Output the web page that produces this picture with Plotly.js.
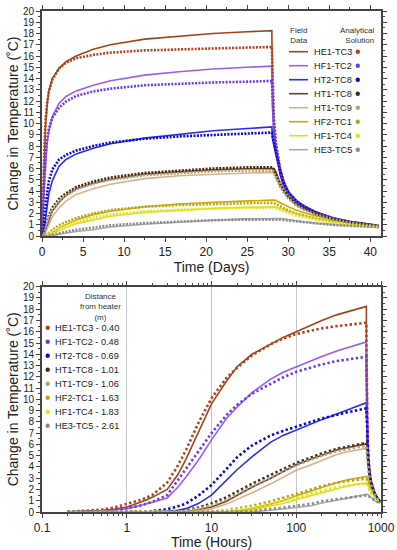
<!DOCTYPE html>
<html><head><meta charset="utf-8">
<script src="https://cdn.plot.ly/plotly-3.0.1.min.js"></script>
<style>html,body{margin:0;padding:0;background:#fff}</style>
</head><body>
<div id="chart" style="width:397px;height:550px"></div>
<script>
// ---- DATA ----
const seriesNames = ['HE1-TC3','HF1-TC2','HT2-TC8','HT1-TC8','HT1-TC9','HF2-TC1','HF1-TC4','HE3-TC5'];
const distances = ['0.40','0.48','0.69','1.01','1.06','1.63','1.83','2.61'];
// elapsed time in hours (heater switched off at ~672 h = 28 days)
const hours = [0,0.2,0.3,0.5,0.7, 1,1.5,2,3,4, 5,7,10,15,20, 30,50,70,100,150, 200,300,400,500,600, 672,674,678,684,690, 696,706,720,744,768, 804,852,900,948,984];

// Field data (measured, solid lines)
const fieldHE1TC3 = [0,0.02,0.05,0.12,0.25, 0.45,0.9,1.3,2.0,3.3, 4.7,7.1,9.6,11.6,12.9, 14.0,14.9,15.5,16.0,16.6, 17.0,17.5,17.75,18.0,18.15, 18.25,13.5,9.8,7.8,6.6, 5.6,4.5,3.6,2.9,2.45, 1.9,1.42,1.13,0.95,0.83];
const fieldHF1TC2 = [0,0.01,0.03,0.08,0.15, 0.3,0.6,0.85,1.25,2.2, 3.1,4.6,6.4,8.3,9.3, 10.6,11.8,12.4,12.9,13.4, 13.8,14.3,14.6,14.85,15.0, 15.1,11.5,9.0,7.5,6.4, 5.5,4.5,3.6,2.9,2.45, 1.9,1.42,1.13,0.95,0.83];
const fieldHT2TC8 = [0,0,0,0,0, 0,0.01,0.02,0.08,0.15, 0.3,0.75,1.5,2.8,3.75, 4.9,6.2,6.8,7.3,7.8, 8.2,8.7,9.05,9.35,9.55, 9.7,8.6,7.9,7.2,6.4, 5.5,4.5,3.6,2.9,2.45, 1.9,1.42,1.13,0.95,0.83];
const fieldHT1TC8 = [0,0,0,0,0, 0,0,0,0,0.02, 0.05,0.2,0.45,0.95,1.45, 2.2,3.0,3.6,4.2,4.7, 5.05,5.5,5.7,5.88,5.98, 6.05,6.05,6.0,5.7,5.25, 4.75,4.2,3.6,2.95,2.55, 2.1,1.6,1.28,1.05,0.9];
const fieldHT1TC9 = [0,0,0,0,0, 0,0,0,0,0, 0.02,0.1,0.3,0.7,1.1, 1.7,2.5,3.1,3.7,4.2, 4.6,5.1,5.35,5.5,5.6, 5.65,5.65,5.6,5.4,5.1, 4.7,4.25,3.7,3.0,2.6, 2.1,1.62,1.3,1.06,0.9];
const fieldHF2TC1 = [0,0,0,0,0, 0,0,0,0,0, 0,0,0,0.02,0.1, 0.3,0.7,1.0,1.45,1.9, 2.2,2.6,2.85,3.0,3.12, 3.2,3.2,3.2,3.15,3.05, 2.95,2.8,2.6,2.3,2.05, 1.75,1.42,1.18,0.98,0.85];
const fieldHF1TC4 = [0,0,0,0,0, 0,0,0,0,0, 0,0,0,0,0.05, 0.2,0.5,0.75,1.1,1.45, 1.75,2.1,2.3,2.45,2.55, 2.6,2.6,2.6,2.58,2.52, 2.45,2.35,2.2,1.95,1.8, 1.55,1.3,1.1,0.95,0.83];
const fieldHE3TC5 = [0,0,0,0,0, 0,0,0,0,0, 0,0,0,0,0, 0.02,0.15,0.25,0.4,0.55, 0.8,1.05,1.25,1.4,1.52, 1.6,1.6,1.6,1.6,1.58, 1.56,1.52,1.45,1.35,1.25, 1.12,1.0,0.92,0.85,0.8];

// Analytical solution (dotted)
const analyHE1TC3 = [0,0.03,0.08,0.2,0.38, 0.7,1.1,1.5,2.6,4.1, 5.5,7.9,10.1,11.9,12.8, 13.9,14.9,15.4,15.8,16.1, 16.3,16.5,16.6,16.7,16.75, 16.8,14.5,10.5,8.3,7.0, 6.0,4.9,3.9,3.1,2.6, 2.05,1.55,1.25,1.02,0.9];
const analyHF1TC2 = [0,0.02,0.04,0.1,0.2, 0.35,0.6,0.9,1.5,2.8, 3.8,5.4,7.0,8.6,9.5, 10.5,11.4,11.95,12.45,12.85, 13.1,13.4,13.55,13.65,13.72, 13.78,12.5,9.8,8.0,6.8, 5.9,4.8,3.9,3.1,2.6, 2.05,1.55,1.25,1.02,0.9];
const analyHT2TC8 = [0,0,0,0,0, 0.01,0.03,0.08,0.25,0.5, 0.75,1.45,2.4,3.8,4.85, 5.9,6.8,7.2,7.6,8.0, 8.3,8.65,8.85,9.0,9.12, 9.2,8.9,8.3,7.6,6.8, 5.9,4.8,3.9,3.1,2.6, 2.05,1.55,1.25,1.02,0.9];
const analyHT1TC8 = [0,0,0,0,0, 0,0,0,0.02,0.06, 0.15,0.4,0.75,1.3,1.8, 2.5,3.3,3.8,4.35,4.85, 5.2,5.6,5.8,6.0,6.1, 6.15,6.1,5.9,5.5,5.0, 4.6,4.1,3.5,2.8,2.4, 1.95,1.5,1.22,1.02,0.9];
const analyHT1TC9 = [0,0,0,0,0, 0,0,0,0,0.03, 0.1,0.3,0.6,1.1,1.6, 2.3,3.1,3.6,4.15,4.65, 5.0,5.4,5.6,5.75,5.82, 5.85,5.8,5.6,5.25,4.8, 4.4,3.9,3.35,2.7,2.3, 1.9,1.48,1.2,1.0,0.88];
const analyHF2TC1 = [0,0,0,0,0, 0,0,0,0,0, 0,0.01,0.05,0.15,0.3, 0.55,0.95,1.25,1.6,2.0, 2.3,2.6,2.75,2.85,2.92, 2.95,2.95,2.92,2.85,2.75, 2.62,2.48,2.28,1.98,1.78, 1.52,1.25,1.05,0.9,0.8];
const analyHF1TC4 = [0,0,0,0,0, 0,0,0,0,0, 0,0,0.03,0.1,0.2, 0.4,0.75,1.0,1.3,1.65, 1.9,2.2,2.35,2.45,2.52, 2.55,2.55,2.53,2.48,2.4, 2.32,2.2,2.05,1.82,1.65, 1.42,1.18,1.0,0.87,0.78];
const analyHE3TC5 = [0,0,0,0,0, 0,0,0,0,0, 0,0,0,0,0.03, 0.1,0.25,0.38,0.55,0.72, 0.95,1.15,1.28,1.4,1.46, 1.5,1.5,1.5,1.49,1.47, 1.45,1.42,1.38,1.3,1.22, 1.1,0.98,0.9,0.84,0.8];

const fieldSeries = [fieldHE1TC3, fieldHF1TC2, fieldHT2TC8, fieldHT1TC8, fieldHT1TC9, fieldHF2TC1, fieldHF1TC4, fieldHE3TC5];
const analySeries = [analyHE1TC3, analyHF1TC2, analyHT2TC8, analyHT1TC8, analyHT1TC9, analyHF2TC1, analyHF1TC4, analyHE3TC5];

// ---- STYLE ----
const lineColors = ['#a0451f','#9a5cf5','#2c2cf2','#7a3a1a','#d9b08a','#d2a800','#e2dc20','#ababab'];
const dotColors  = ['#b0441c','#6a3cf0','#0a0ad0','#4a2a14','#a8a47c','#b8a810','#dce61a','#8c8c8c'];
const FONT = 'Liberation Sans, Arial, Helvetica, sans-serif';

const days = hours.map(h => h / 24);
const hoursLog = hours.slice(1);

const traces = [];
for (let i = 0; i < seriesNames.length; i++) {
  traces.push({x: days, y: fieldSeries[i], xaxis:'x', yaxis:'y', mode:'lines', name: seriesNames[i]+' field',
    line:{color: lineColors[i], width:1.6}, showlegend:false, hoverinfo:'skip'});
  traces.push({x: hoursLog, y: fieldSeries[i].slice(1), xaxis:'x2', yaxis:'y2', mode:'lines', name: seriesNames[i]+' field',
    line:{color: lineColors[i], width:1.6}, showlegend:false, hoverinfo:'skip'});
}
for (let i = 0; i < seriesNames.length; i++) {
  traces.push({x: days, y: analySeries[i], xaxis:'x', yaxis:'y', mode:'lines', name: seriesNames[i]+' analytical',
    line:{color: dotColors[i], width:2.6, dash:'2px,1.4px'}, showlegend:false, hoverinfo:'skip'});
  traces.push({x: hoursLog, y: analySeries[i].slice(1), xaxis:'x2', yaxis:'y2', mode:'lines', name: seriesNames[i]+' analytical',
    line:{color: dotColors[i], width:2.6, dash:'2.4px,2.4px'}, showlegend:false, hoverinfo:'skip'});
}

// ---- custom legends (paper coordinates from pixel positions) ----
const ML = 42, MR = 16, MT = 11, MB = 38, W = 397, H = 550;
const PW = W - ML - MR, PH = H - MT - MB;
const px2x = px => (px - ML) / PW;
const py2y = py => (H - MB - py) / PH;

const shapes = [];
const annotations = [];
annotations.push({xref:'paper', yref:'paper', x:px2x(299), y:py2y(35.5), text:'Field<br>Data', showarrow:false,
  xanchor:'center', yanchor:'middle', font:{family:FONT, size:8, color:'#333'}, align:'center'});
annotations.push({xref:'paper', yref:'paper', x:px2x(376), y:py2y(35.5), text:'Analytical<br>Solution', showarrow:false,
  xanchor:'right', yanchor:'middle', font:{family:FONT, size:8, color:'#333'}, align:'right'});
annotations.push({xref:'paper', yref:'paper', x:px2x(100), y:py2y(307), text:'Distance<br>from heater<br>(m)', showarrow:false,
  xanchor:'center', yanchor:'middle', font:{family:FONT, size:8, color:'#333'}, align:'center'});
for (let i = 0; i < seriesNames.length; i++) {
  const yt = 51.7 + i * 14.0;
  shapes.push({type:'line', xref:'paper', yref:'paper', x0:px2x(289), x1:px2x(308), y0:py2y(yt), y1:py2y(yt),
    line:{color: lineColors[i], width:1.6}});
  annotations.push({xref:'paper', yref:'paper', x:px2x(312), y:py2y(yt), text:seriesNames[i], showarrow:false,
    xanchor:'left', yanchor:'middle', font:{family:FONT, size:9.2, color:'#222'}});
  shapes.push({type:'circle', xref:'paper', yref:'paper', x0:px2x(355.6), x1:px2x(360), y0:py2y(yt+2.2), y1:py2y(yt-2.2),
    fillcolor: dotColors[i], line:{width:0}});
  const yb = 327.7 + i * 14.0;
  shapes.push({type:'circle', xref:'paper', yref:'paper', x0:px2x(45.5), x1:px2x(49.9), y0:py2y(yb+2.2), y1:py2y(yb-2.2),
    fillcolor: dotColors[i], line:{width:0}});
  annotations.push({xref:'paper', yref:'paper', x:px2x(52.5), y:py2y(yb), text:seriesNames[i]+' - '+distances[i], showarrow:false,
    xanchor:'left', yanchor:'middle', font:{family:FONT, size:9.2, color:'#222'}});
}

const minorLog = [];
[0.1, 1, 10, 100].forEach(d => { for (let k = 2; k <= 9; k++) minorLog.push(d * k); });

const axCommon = {showline:true, linecolor:'#444', linewidth:2, mirror:'ticks', ticks:'outside', ticklen:4,
  tickwidth:1, tickcolor:'#444', zeroline:false, showgrid:false};
const yCommon = Object.assign({}, axCommon, {range:[0,20], dtick:1, tick0:0, tickfont:{family:FONT, size:10, color:'#222'},
  minor:{dtick:0.5, ticks:'outside', ticklen:2, tickcolor:'#444', showgrid:false},
  title:{text:'Change in Temperature (˚C)', font:{family:FONT, size:14, color:'#222'}, standoff:1}});

const layout = {
  width:W, height:H, margin:{l:ML, r:MR, t:MT, b:MB}, paper_bgcolor:'#fff', plot_bgcolor:'#fff',
  font:{family:FONT, color:'#222'}, showlegend:false,
  xaxis: Object.assign({}, axCommon, {domain:[0,1], anchor:'y', range:[0,41.3], dtick:5, tick0:0,
    tickfont:{family:FONT, size:12, color:'#222'},
    minor:{dtick:2.5, ticks:'outside', ticklen:2, tickcolor:'#444', showgrid:false},
    title:{text:'Time (Days)', font:{family:FONT, size:14, color:'#222'}, standoff:2}}),
  yaxis: Object.assign({}, yCommon, {domain:[py2y(236), 1], anchor:'x'}),
  xaxis2: Object.assign({}, axCommon, {domain:[0,1], anchor:'y2', type:'log', range:[-1,3], dtick:1,
    showgrid:true, gridcolor:'#c4c4c4', gridwidth:1,
    tickfont:{family:FONT, size:12, color:'#222'},
    minor:{tickmode:'array', tickvals:minorLog, ticks:'outside', ticklen:2, tickcolor:'#444', showgrid:false},
    title:{text:'Time (Hours)', font:{family:FONT, size:14, color:'#222'}, standoff:2}}),
  yaxis2: Object.assign({}, yCommon, {domain:[0, py2y(286.7)], anchor:'x2'}),
  shapes: shapes, annotations: annotations
};

Plotly.newPlot('chart', traces, layout, {displayModeBar:false, staticPlot:true});
</script>
</body></html>
